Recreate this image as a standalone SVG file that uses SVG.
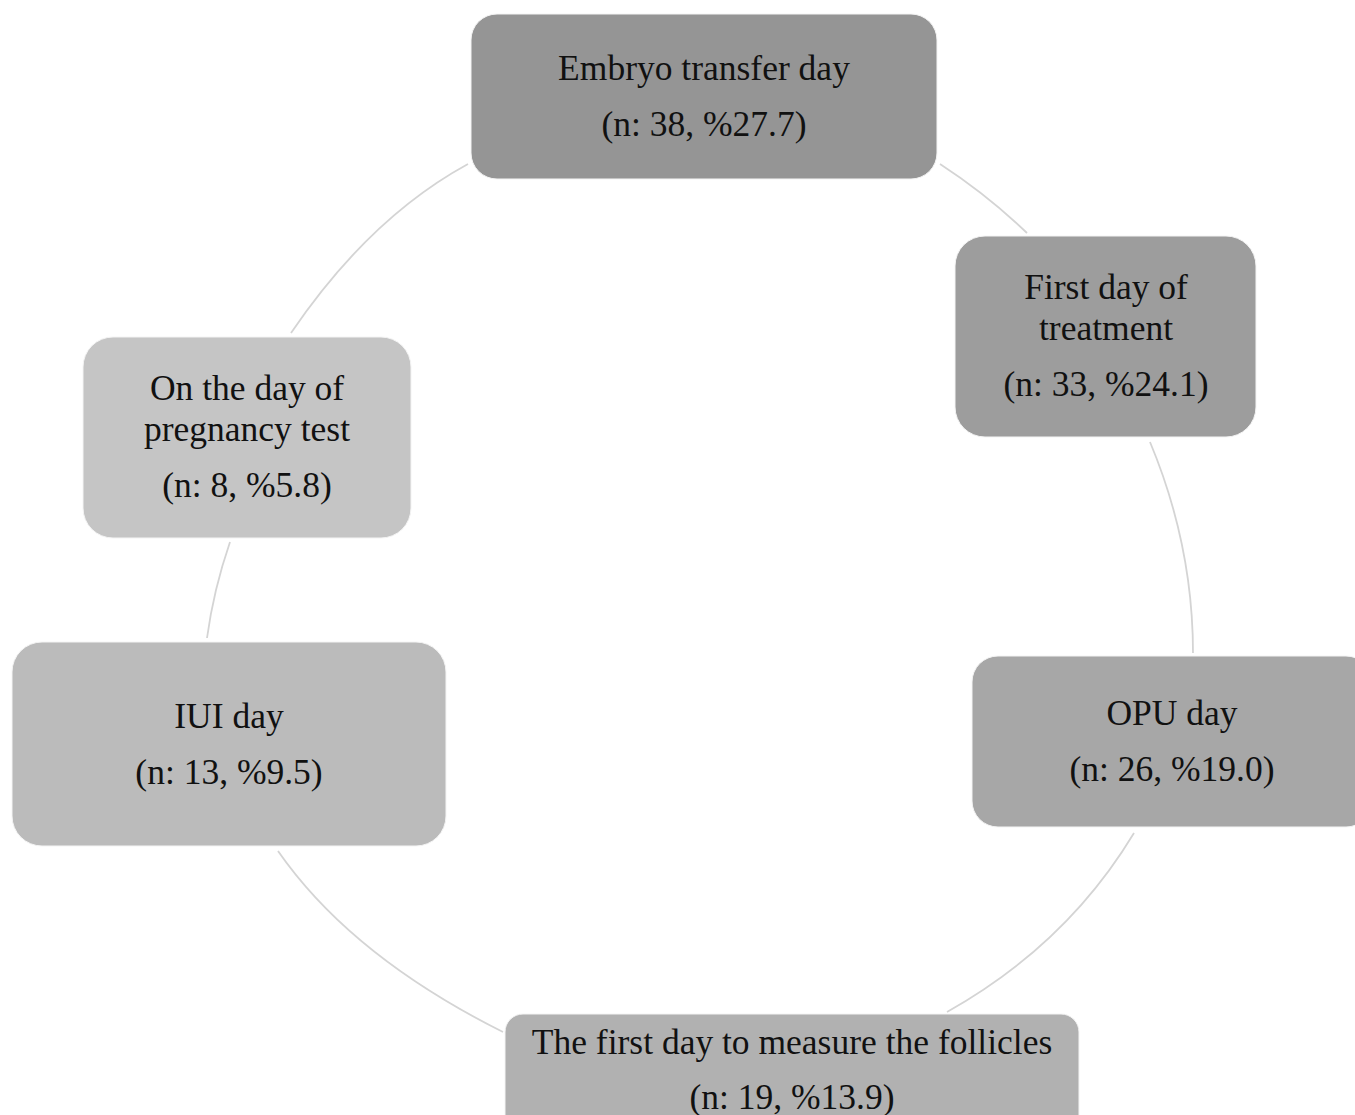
<svg xmlns="http://www.w3.org/2000/svg" width="1355" height="1115" viewBox="0 0 1355 1115">
<style>
.box{stroke:#f4f4f4;stroke-width:1}
.t{font-family:"Liberation Serif","Times New Roman",serif;font-size:35.5px;fill:#111111;text-anchor:middle}
.arc{fill:none;stroke:#d4d4d4;stroke-width:1.8}
</style>
<rect width="1355" height="1115" fill="#ffffff"/>
<g id="connectors">
<path class="arc" d="M940,164 Q987.5,195 1027,233"/>
<path class="arc" d="M1150,442 Q1193,545 1193,653"/>
<path class="arc" d="M1134,833 Q1066.5,945 947,1012"/>
<path class="arc" d="M503,1032 Q351,956 278,851"/>
<path class="arc" d="M207,638 Q213.5,590 230,542"/>
<path class="arc" d="M291,333 Q369.3,217.8 468,164"/>
</g>
<g id="embryo-transfer">
<rect class="box" x="471" y="14" width="466" height="165" rx="26" fill="#959595"/>
<text class="t" x="704" y="80">Embryo transfer day</text>
<text class="t" x="704" y="136">(n: 38, %27.7)</text>
</g>
<g id="first-day-treatment">
<rect class="box" x="955" y="236" width="301" height="201" rx="30" fill="#9d9d9d"/>
<text class="t" x="1106" y="299">First day of</text>
<text class="t" x="1106" y="340">treatment</text>
<text class="t" x="1106" y="396">(n: 33, %24.1)</text>
</g>
<g id="opu-day">
<rect class="box" x="972" y="656" width="400" height="171" rx="26" fill="#a7a7a7"/>
<text class="t" x="1172" y="725">OPU day</text>
<text class="t" x="1172" y="781">(n: 26, %19.0)</text>
</g>
<g id="follicles">
<rect class="box" x="505" y="1014" width="574" height="130" rx="18" fill="#b1b1b1"/>
<text class="t" x="792" y="1054">The first day to measure the follicles</text>
<text class="t" x="792" y="1109">(n: 19, %13.9)</text>
</g>
<g id="iui-day">
<rect class="box" x="12" y="642" width="434" height="204" rx="30" fill="#bbbbbb"/>
<text class="t" x="229" y="728">IUI day</text>
<text class="t" x="229" y="784">(n: 13, %9.5)</text>
</g>
<g id="pregnancy-test">
<rect class="box" x="83" y="337" width="328" height="201" rx="30" fill="#c5c5c5"/>
<text class="t" x="247" y="400">On the day of</text>
<text class="t" x="247" y="441">pregnancy test</text>
<text class="t" x="247" y="497">(n: 8, %5.8)</text>
</g>
</svg>
